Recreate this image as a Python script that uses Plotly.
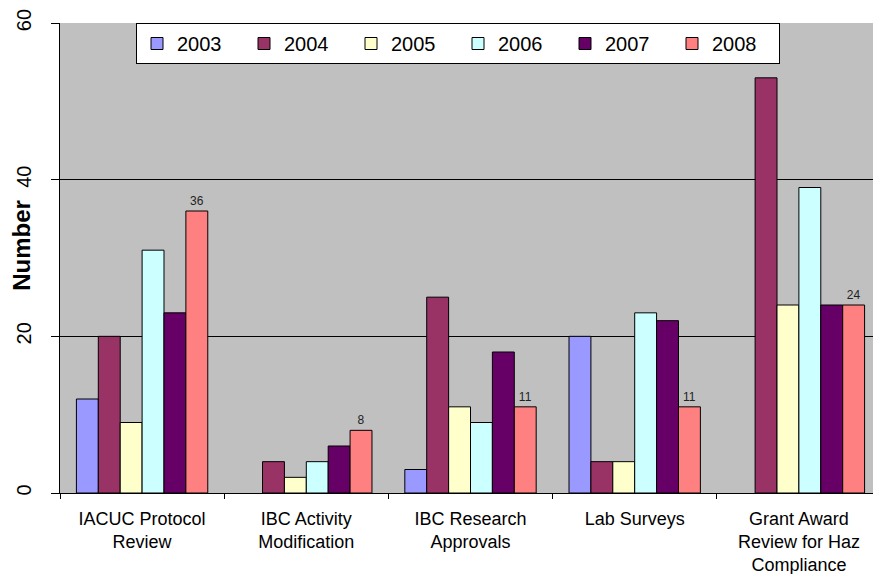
import plotly.graph_objects as go

categories = [
    "IACUC Protocol<br>Review",
    "IBC Activity<br>Modification",
    "IBC Research<br>Approvals",
    "Lab Surveys",
    "Grant Award<br>Review for Haz<br>Compliance",
]
years = ["2003", "2004", "2005", "2006", "2007", "2008"]

# None = no bar drawn for that year
v2003 = [12, None, 3, 20, None]
v2004 = [20, 4, 25, 4, 53]
v2005 = [9, 2, 11, 4, 24]
v2006 = [31, 4, 9, 23, 39]
v2007 = [23, 6, 18, 22, 24]
v2008 = [36, 8, 11, 11, 24]

series = [v2003, v2004, v2005, v2006, v2007, v2008]
colors = ["#9999FF", "#993366", "#FFFFCC", "#CCFFFF", "#660066", "#FF8080"]

FONT = "Liberation Sans, Arial, sans-serif"

fig = go.Figure()

for year, vals, col in zip(years, series, colors):
    show_text = year == "2008"
    fig.add_trace(
        go.Bar(
            name=year,
            x=categories,
            y=vals,
            marker=dict(color=col, line=dict(color="#000000", width=1)),
            text=[str(v) for v in vals] if show_text else None,
            textposition="outside" if show_text else None,
            textfont=dict(size=12, color="#222222", family=FONT),
            cliponaxis=False,
        )
    )

fig.add_annotation(
    text="<b>Number</b>",
    textangle=-90,
    xref="paper",
    yref="paper",
    x=-38 / 821,
    y=0.526,
    xanchor="center",
    yanchor="middle",
    showarrow=False,
    font=dict(size=24, color="#000000", family=FONT),
)

# page has an 8px body margin, so the figure is 8px smaller and shifted
fig.update_layout(
    width=873,
    height=566,
    barmode="group",
    bargap=0.2,
    bargroupgap=0,
    margin=dict(l=52, r=0, t=15, b=81),
    paper_bgcolor="#FFFFFF",
    plot_bgcolor="#C0C0C0",
    font=dict(family=FONT, color="#000000"),
    legend=dict(
        orientation="h",
        x=(136 - 60) / 821,
        y=1,
        xanchor="left",
        yanchor="top",
        bgcolor="#FFFFFF",
        bordercolor="#000000",
        borderwidth=1,
        font=dict(size=20, family=FONT, color="#000000"),
        entrywidth=62,
        itemwidth=30,
    ),
    showlegend=True,
)

fig.update_xaxes(
    showline=True,
    linecolor="#000000",
    linewidth=1,
    ticks="outside",
    ticklen=5,
    tickcolor="#000000",
    tickson="boundaries",
    showgrid=False,
    tickfont=dict(size=18, family=FONT, color="#000000"),
    ticklabelstandoff=9,
)

fig.update_yaxes(
    range=[0, 60],
    tickvals=[0, 20, 40, 60],
    tickangle=-90,
    showline=True,
    linecolor="#000000",
    linewidth=1,
    ticks="outside",
    ticklen=8,
    tickcolor="#000000",
    showgrid=True,
    gridcolor="#000000",
    gridwidth=1,
    zeroline=False,
    tickfont=dict(size=20, family=FONT, color="#000000"),
    ticklabelstandoff=12,
)

fig.write_html("out.html")
